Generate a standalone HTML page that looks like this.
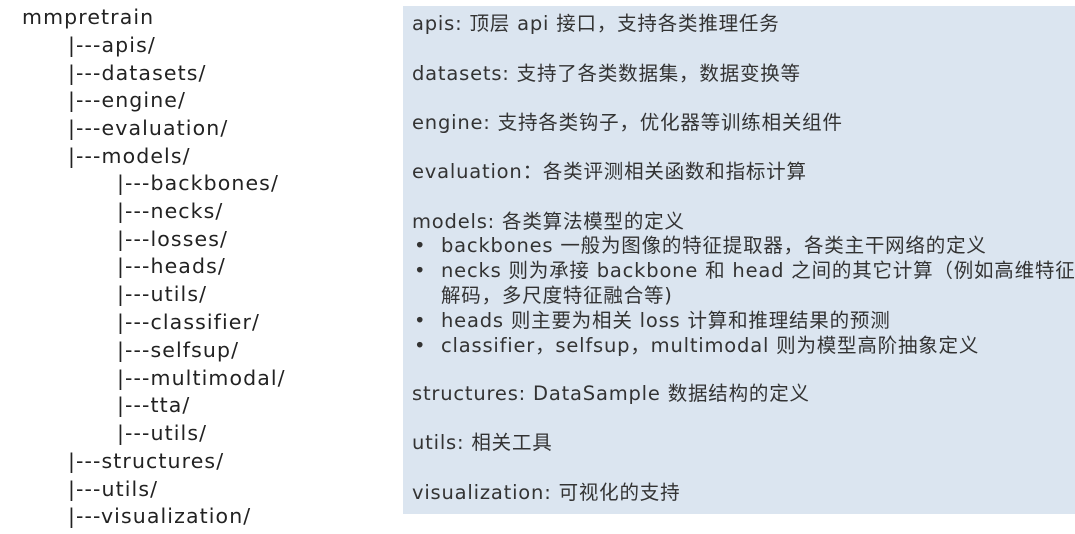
<!DOCTYPE html>
<html><head><meta charset="utf-8"><style>
body{margin:0;width:1075px;height:534px;background:#fff;position:relative;overflow:hidden;font-family:"DejaVu Sans","Noto Sans CJK SC",sans-serif;color:#222}
.t{position:absolute;font-size:20.5px;letter-spacing:1.1px;white-space:nowrap;line-height:28px}
.box{position:absolute;left:403px;top:6px;width:672px;height:508px;background:#dbe5f0}
.r,.bt,.b{position:absolute;font-size:19.5px;letter-spacing:0.8px;white-space:nowrap;color:#333;line-height:25px}
.r{left:412px}
.b{left:414px}
.bt{left:441px}
</style></head><body>
<div class="t" style="left:22px;top:3px">mmpretrain</div>
<div class="t" style="left:68px;top:31px">|---apis/</div>
<div class="t" style="left:68px;top:59px">|---datasets/</div>
<div class="t" style="left:68px;top:86px">|---engine/</div>
<div class="t" style="left:68px;top:114px">|---evaluation/</div>
<div class="t" style="left:68px;top:142px">|---models/</div>
<div class="t" style="left:117px;top:169px">|---backbones/</div>
<div class="t" style="left:117px;top:197px">|---necks/</div>
<div class="t" style="left:117px;top:225px">|---losses/</div>
<div class="t" style="left:117px;top:252px">|---heads/</div>
<div class="t" style="left:117px;top:280px">|---utils/</div>
<div class="t" style="left:117px;top:308px">|---classifier/</div>
<div class="t" style="left:117px;top:336px">|---selfsup/</div>
<div class="t" style="left:117px;top:364px">|---multimodal/</div>
<div class="t" style="left:117px;top:391px">|---tta/</div>
<div class="t" style="left:117px;top:419px">|---utils/</div>
<div class="t" style="left:68px;top:447px">|---structures/</div>
<div class="t" style="left:68px;top:475px">|---utils/</div>
<div class="t" style="left:68px;top:502px">|---visualization/</div>
<div class="box"></div>
<div class="r" style="top:11px">apis: 顶层 api 接口，支持各类推理任务</div>
<div class="r" style="top:61px">datasets: 支持了各类数据集，数据变换等</div>
<div class="r" style="top:110px">engine: 支持各类钩子，优化器等训练相关组件</div>
<div class="r" style="top:159px">evaluation：各类评测相关函数和指标计算</div>
<div class="r" style="top:209px">models: 各类算法模型的定义</div>
<div class="b" style="top:233px">•</div><div class="bt" style="top:233px">backbones 一般为图像的特征提取器，各类主干网络的定义</div>
<div class="b" style="top:258px">•</div><div class="bt" style="top:258px">necks 则为承接 backbone 和 head 之间的其它计算（例如高维特征</div>
<div class="bt" style="top:283px">解码，多尺度特征融合等)</div>
<div class="b" style="top:308px">•</div><div class="bt" style="top:308px">heads 则主要为相关 loss 计算和推理结果的预测</div>
<div class="b" style="top:333px">•</div><div class="bt" style="top:333px">classifier，selfsup，multimodal 则为模型高阶抽象定义</div>
<div class="r" style="top:381px">structures: DataSample 数据结构的定义</div>
<div class="r" style="top:430px">utils: 相关工具</div>
<div class="r" style="top:480px">visualization: 可视化的支持</div>
</body></html>
